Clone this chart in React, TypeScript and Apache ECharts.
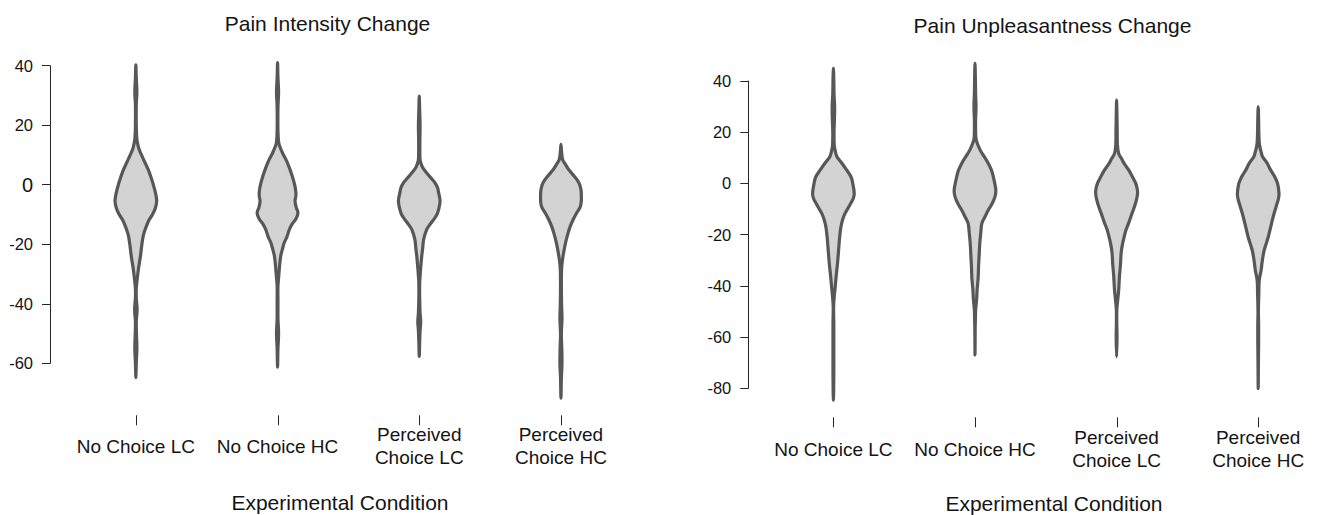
import React, { useEffect, useRef } from "react";
import * as echarts from "echarts";

// ---------- data ----------
const categories = ["No Choice LC", "No Choice HC", "Perceived\nChoice LC", "Perceived\nChoice HC"];

const intensityTitle = "Pain Intensity Change";
const unpleasantTitle = "Pain Unpleasantness Change";
const xAxisTitle = "Experimental Condition";

const intensityRange = [-60, 40];
const unpleasantRange = [-80, 40];
const tickStep = 20;

// violin outlines: [value, relative density (0..1)]
const intensityNoChoiceLC = [
  [40.3, 0], [36, 0.02], [31, 0.05], [27, 0.02], [20, 0.02], [16, 0.04], [14, 0.08], [12, 0.15],
  [10, 0.27], [8, 0.4], [5, 0.6], [2, 0.75], [0, 0.84], [-3, 0.95], [-5.5, 1], [-8, 0.93],
  [-10, 0.8], [-12, 0.62], [-15, 0.45], [-17, 0.36], [-20, 0.29], [-24, 0.22], [-28, 0.13],
  [-32, 0.06], [-35, 0.02], [-38, 0.02], [-42, 0.06], [-46, 0.02], [-50, 0.03], [-55, 0.05],
  [-60, 0.02], [-64.8, 0],
];
const intensityNoChoiceHC = [
  [41, 0], [36, 0.02], [31, 0.05], [26, 0.02], [18, 0.02], [14.5, 0.05], [13, 0.1], [10.5, 0.25],
  [8.5, 0.4], [6, 0.55], [3, 0.7], [0, 0.82], [-2, 0.87], [-3.7, 0.88], [-5.5, 0.84], [-7.5, 0.89],
  [-9.5, 0.98], [-11.5, 0.88], [-13, 0.72], [-15, 0.57], [-17.5, 0.45], [-19.5, 0.32], [-22, 0.22],
  [-24, 0.15], [-27, 0.1], [-30.5, 0.06], [-34, 0.02], [-40, 0.02], [-45, 0.02], [-50, 0.05],
  [-55, 0.02], [-61.3, 0],
];
const intensityPerceivedLC = [
  [29.8, 0], [25, 0.02], [20, 0.04], [15, 0.03], [10, 0.03], [8, 0.05], [6, 0.15], [4, 0.35],
  [2, 0.6], [0.7, 0.75], [-1, 0.88], [-2.7, 0.93], [-5.5, 1], [-8.3, 0.93], [-10, 0.85],
  [-11.7, 0.69], [-13.5, 0.5], [-15, 0.36], [-18.4, 0.21], [-21, 0.17], [-24, 0.12], [-27, 0.08],
  [-30.7, 0.04], [-33, 0.02], [-38, 0.02], [-43, 0.04], [-46, 0.07], [-49, 0.04], [-53, 0.02],
  [-57.7, 0],
];
const intensityPerceivedHC = [
  [13.6, 0], [11, 0.03], [8.5, 0.08], [7, 0.2], [5.2, 0.36], [3, 0.62], [0.7, 0.86], [-1.6, 0.96],
  [-4, 0.98], [-6, 0.97], [-7.5, 0.92], [-9.4, 0.76], [-11.5, 0.6], [-13.9, 0.45], [-16.5, 0.33],
  [-19.5, 0.22], [-22, 0.15], [-24, 0.1], [-26, 0.06], [-28.5, 0.03], [-33, 0.02], [-40, 0.03],
  [-45, 0.05], [-50, 0.02], [-55, 0.04], [-60, 0.05], [-65, 0.02], [-71.7, 0],
];

const unpleasantNoChoiceLC = [
  [44.9, 0], [40, 0.02], [35, 0.03], [30, 0.06], [25, 0.05], [20, 0.03], [15, 0.04], [13, 0.08],
  [10.4, 0.17], [8, 0.4], [5.2, 0.64], [2.5, 0.85], [0, 0.93], [-3.9, 1], [-6, 0.95], [-7.8, 0.83],
  [-10, 0.68], [-11.7, 0.56], [-14, 0.45], [-17, 0.36], [-21, 0.3], [-26, 0.25], [-31, 0.2],
  [-36.5, 0.13], [-41, 0.08], [-44.3, 0.04], [-48.2, 0.01], [-55, 0.02], [-65, 0.02], [-75, 0.02],
  [-84.6, 0],
];
const unpleasantNoChoiceHC = [
  [46.9, 0], [40, 0.02], [35, 0.03], [30, 0.05], [25, 0.03], [20, 0.03], [16.9, 0.06], [13, 0.25],
  [10, 0.48], [7.8, 0.64], [5, 0.8], [2.6, 0.88], [0, 0.95], [-2.6, 1], [-4.5, 0.98], [-6.5, 0.9],
  [-8.5, 0.78], [-10.4, 0.64], [-13, 0.48], [-15.6, 0.33], [-19, 0.28], [-23.4, 0.23], [-28, 0.2],
  [-32.6, 0.17], [-37, 0.15], [-41.7, 0.1], [-45, 0.08], [-49.5, 0.03], [-53, 0.02], [-56, 0.01],
  [-67, 0],
];
const unpleasantPerceivedLC = [
  [32.5, 0], [25, 0.02], [20, 0.03], [15, 0.04], [11.7, 0.1], [9.5, 0.25], [7.8, 0.36], [5, 0.6],
  [2.6, 0.76], [0, 0.92], [-2.6, 1], [-4.5, 1], [-6.5, 0.95], [-9, 0.86], [-11.7, 0.74], [-15, 0.6],
  [-18.2, 0.45], [-21, 0.36], [-23.4, 0.29], [-27, 0.22], [-31.2, 0.19], [-36, 0.14], [-41.7, 0.1],
  [-45, 0.06], [-49.5, 0.01], [-55, 0.01], [-60, 0.02], [-67.7, 0],
];
const unpleasantPerceivedHC = [
  [29.9, 0], [25, 0.02], [20, 0.03], [16, 0.05], [14.3, 0.08], [12, 0.15], [10.4, 0.21], [8, 0.42],
  [5.2, 0.6], [2.5, 0.8], [0, 0.93], [-3.9, 1], [-6, 0.97], [-9.1, 0.86], [-13, 0.72], [-17, 0.6],
  [-21, 0.48], [-26, 0.29], [-30, 0.2], [-33.9, 0.14], [-37.8, 0.05], [-43, 0.03], [-50, 0.01],
  [-55, 0.02], [-62, 0.02], [-70, 0.01], [-80.1, 0],
];

const intensityViolins = [intensityNoChoiceLC, intensityNoChoiceHC, intensityPerceivedLC, intensityPerceivedHC];
const unpleasantViolins = [unpleasantNoChoiceLC, unpleasantNoChoiceHC, unpleasantPerceivedLC, unpleasantPerceivedHC];

// ---------- styles ----------
const FONT = "'Liberation Sans', Arial, Helvetica, sans-serif";
const TEXT = "#141414";
const AXIS = "#262626";
const FILL = "#d3d3d3";
const STROKE = "#575757";
const MAX_HALF = 0.147; // fraction of category band
const TICK_LEN = 10;

function makeRender(profiles: number[][][], axisMin: number, tickOffset: number) {
  return (params: any, api: any) => {
    const i = params.dataIndex;
    const prof = profiles[i];
    const band = api.coord([1, 0])[0] - api.coord([0, 0])[0];
    const cx = api.coord([i, 0])[0];
    const right = prof.map(([v, d]) => [cx + d * MAX_HALF * band, api.coord([i, v])[1]]);
    const left = prof
      .slice()
      .reverse()
      .map(([v, d]) => [cx - d * MAX_HALF * band, api.coord([i, v])[1]]);
    const points = right.concat(left.slice(1, left.length - 1));
    const axisY = api.coord([i, axisMin])[1] + tickOffset;
    return {
      type: "group",
      children: [
        {
          type: "polygon",
          shape: { points, smooth: 0.35 },
          style: { fill: FILL, stroke: STROKE, lineWidth: 3.2, lineJoin: "round" },
        },
        {
          type: "line",
          shape: { x1: Math.round(cx) + 0.5, y1: axisY, x2: Math.round(cx) + 0.5, y2: axisY + TICK_LEN },
          style: { stroke: AXIS, lineWidth: 1 },
        },
      ],
    };
  };
}

function xAxisFor(gridIndex: number, offset: number, margin: number) {
  return {
    type: "category",
    gridIndex,
    data: categories,
    position: "bottom",
    offset,
    axisLine: { show: false },
    axisTick: { show: false },
    axisLabel: {
      show: true,
      interval: 0,
      margin,
      fontSize: 19,
      lineHeight: 23,
      fontFamily: FONT,
      color: TEXT,
      verticalAlign: "middle",
      align: "center",
    },
    splitLine: { show: false },
  };
}

function yAxisFor(gridIndex: number, range: number[], offset: number, bigZero: boolean) {
  return {
    type: "value",
    gridIndex,
    min: range[0],
    max: range[1],
    interval: tickStep,
    offset,
    axisLine: { show: true, lineStyle: { color: AXIS, width: 1 } },
    axisTick: { show: true, length: 8, lineStyle: { color: AXIS, width: 1 } },
    axisLabel: {
      margin: 17,
      fontSize: 16.5,
      fontFamily: FONT,
      color: TEXT,
      formatter: (v: number) => (bigZero && v === 0 ? "{big|0}" : String(v)),
      rich: { big: { fontSize: 20, fontFamily: FONT, color: TEXT } },
    },
    splitLine: { show: false },
  };
}

export default function App() {
  const ref = useRef<HTMLDivElement>(null);
  useEffect(() => {
    if (!ref.current) return;
    const chart = echarts.init(ref.current, null, { renderer: "svg" });
    const textStyle = (text: string, size: number) => ({
      text,
      fontSize: size,
      fontFamily: FONT,
      fill: TEXT,
      align: "center",
      verticalAlign: "middle",
    });
    chart.setOption({
      animation: false,
      backgroundColor: "#ffffff",
      grid: [
        { left: 65, top: 65.7, width: 566.8, height: 297.6, containLabel: false },
        { left: 762.6, top: 81, width: 578.8, height: 307.3, containLabel: false },
      ],
      xAxis: [xAxisFor(0, 52, 31), xAxisFor(1, 29, 32)],
      yAxis: [yAxisFor(0, intensityRange, 15, true), yAxisFor(1, unpleasantRange, 14.3, false)],
      series: [
        {
          type: "custom",
          xAxisIndex: 0,
          yAxisIndex: 0,
          clip: false,
          silent: true,
          renderItem: makeRender(intensityViolins, intensityRange[0], 52),
          data: categories.map((_, i) => [i, 0]),
        },
        {
          type: "custom",
          xAxisIndex: 1,
          yAxisIndex: 1,
          clip: false,
          silent: true,
          renderItem: makeRender(unpleasantViolins, unpleasantRange[0], 29),
          data: categories.map((_, i) => [i, 0]),
        },
      ],
      graphic: [
        { type: "text", x: 327.5, y: 23, silent: true, style: textStyle(intensityTitle, 21) },
        { type: "text", x: 1052.5, y: 25, silent: true, style: textStyle(unpleasantTitle, 21) },
        { type: "text", x: 340, y: 502.5, silent: true, style: textStyle(xAxisTitle, 21) },
        { type: "text", x: 1054, y: 503.5, silent: true, style: textStyle(xAxisTitle, 21) },
      ],
    });
    return () => chart.dispose();
  }, []);
  return (
    <div
      ref={ref}
      style={{ position: "fixed", left: 0, top: 0, width: 1329, height: 515, background: "#fff" }}
    />
  );
}
